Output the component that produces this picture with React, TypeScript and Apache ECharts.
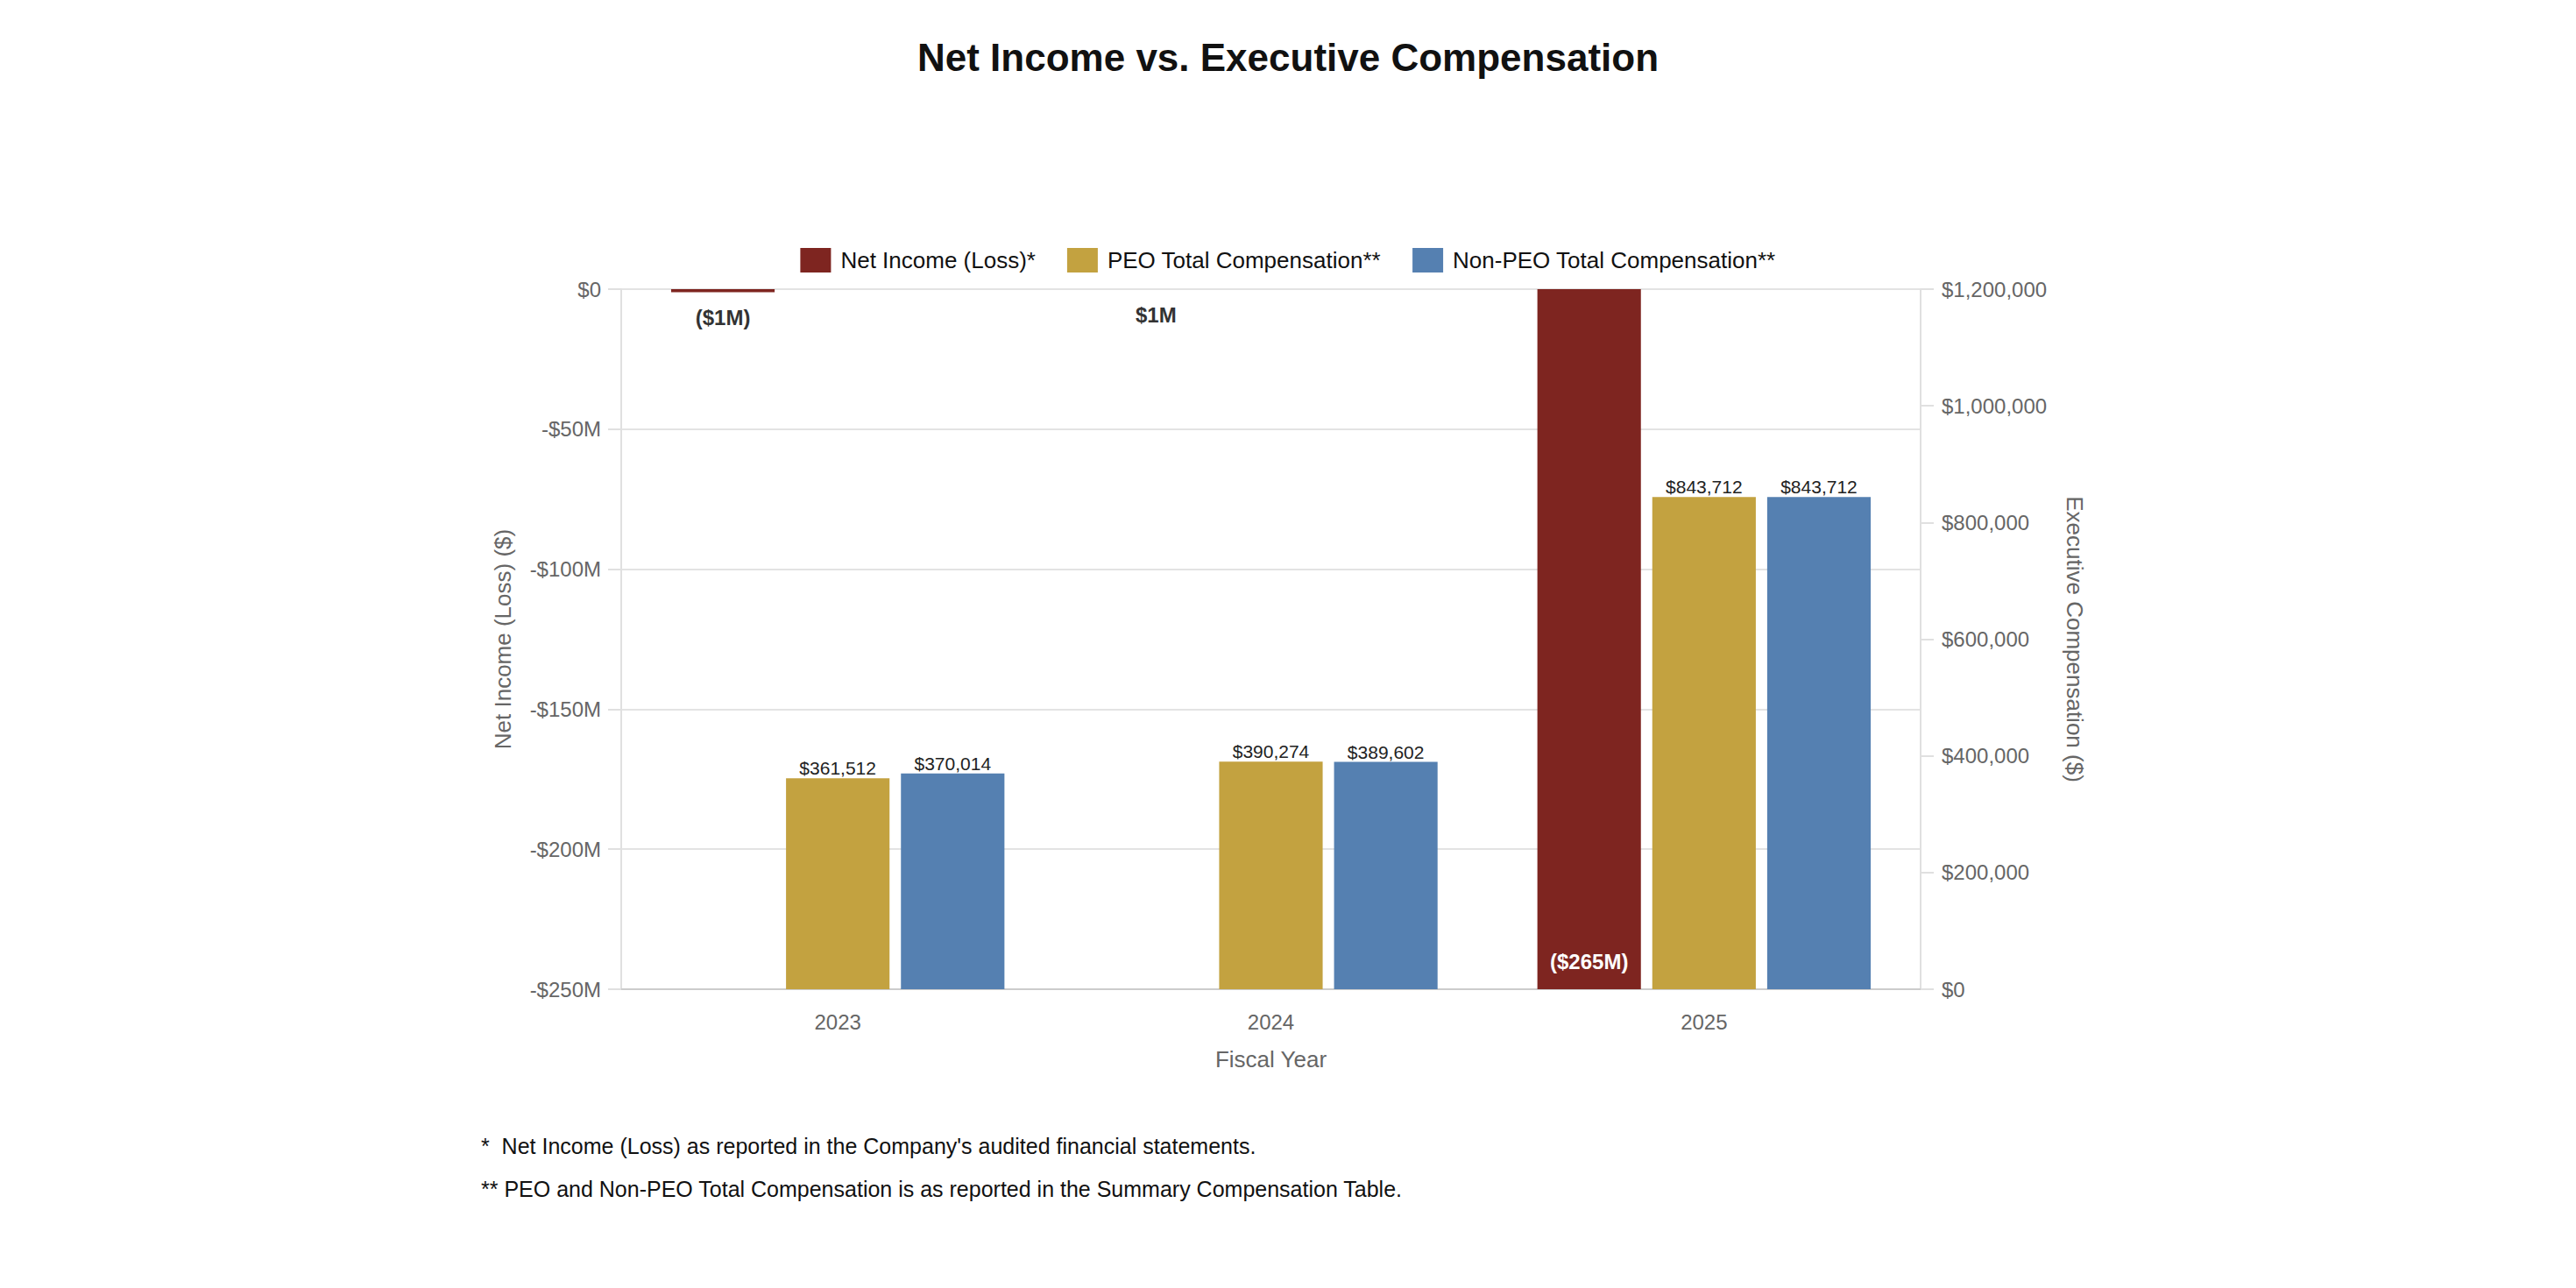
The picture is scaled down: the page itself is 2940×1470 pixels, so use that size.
import React, { useEffect, useRef } from 'react';
import * as echarts from 'echarts';

const fiscalYears = ['2023', '2024', '2025'];
const netIncome = [-1_100_000, 1_000_000, -265_000_000];
const peoComp = [361512, 390274, 843712];
const nonPeoComp = [370014, 389602, 843712];

const leftMin = -250_000_000;
const leftMax = 0;
const leftInterval = 50_000_000;
const rightMin = 0;
const rightMax = 1_200_000;
const rightInterval = 200_000;

const seriesNames = ['Net Income (Loss)*', 'PEO Total Compensation**', 'Non-PEO Total Compensation**'];
const colors = ['#7e2520', '#c3a240', '#5580b1'];
const footnotes = [
  "*  Net Income (Loss) as reported in the Company's audited financial statements.",
  '** PEO and Non-PEO Total Compensation is as reported in the Summary Compensation Table.',
];

const FONT = '"Liberation Sans", Arial, Helvetica, sans-serif';

const fmtMoney = (v: number) => '$' + Math.round(v).toLocaleString('en-US');
const fmtNet = (v: number) => {
  const m = Math.round(Math.abs(v) / 1e6);
  return v < 0 ? `($${m}M)` : `$${m}M`;
};

export default function App() {
  const ref = useRef<HTMLDivElement>(null);
  useEffect(() => {
    if (!ref.current) return;
    const chart = echarts.init(ref.current, undefined, { renderer: 'svg' });

    const netData = netIncome.map((v) => {
      const clipped = v < leftMin;
      return {
        value: v,
        label: clipped
          ? { show: true, position: 'insideBottom', distance: 20, color: '#ffffff', fontWeight: 'bold', fontSize: 24 }
          : { show: true, position: 'bottom', distance: 17, color: '#333333', fontWeight: 'bold', fontSize: 24 },
      };
    });

    const compLabel = {
      show: true,
      position: 'top',
      distance: 1,
      color: '#222222',
      fontSize: 21,
      formatter: (p: any) => fmtMoney(p.value),
    };

    const option: any = {
      animation: false,
      textStyle: { fontFamily: FONT },
      title: {
        text: 'Net Income vs. Executive Compensation',
        left: 'center',
        top: 30,
        textStyle: { fontSize: 44, fontWeight: 'bold', color: '#111111', fontFamily: FONT },
      },
      legend: {
        data: seriesNames,
        left: 'center',
        top: 270,
        icon: 'rect',
        itemWidth: 35,
        itemHeight: 28,
        itemGap: 36,
        textStyle: { fontSize: 26, color: '#111111', fontFamily: FONT, padding: [0, 0, 0, 6] },
      },
      grid: { left: 701, right: 740, top: 322, bottom: 333, containLabel: false },
      xAxis: {
        type: 'category',
        data: fiscalYears,
        name: 'Fiscal Year',
        nameLocation: 'middle',
        nameGap: 67,
        nameTextStyle: { fontSize: 26, color: '#666666', fontFamily: FONT },
        axisLine: { onZero: false, lineStyle: { color: '#cccccc', width: 2 } },
        axisTick: { show: false },
        axisLabel: { fontSize: 24, color: '#666666', margin: 25, fontFamily: FONT },
      },
      yAxis: [
        {
          type: 'value',
          position: 'left',
          min: leftMin,
          max: leftMax,
          interval: leftInterval,
          name: 'Net Income (Loss) ($)',
          nameLocation: 'middle',
          nameGap: 122,
          nameTextStyle: { fontSize: 26, color: '#666666', fontFamily: FONT },
          axisLine: { show: true, lineStyle: { color: '#e0e0e0', width: 2 } },
          axisTick: { show: true, length: 15, lineStyle: { color: '#e0e0e0', width: 2 } },
          splitLine: { show: true, lineStyle: { color: '#e3e3e3', width: 2 } },
          axisLabel: {
            fontSize: 24,
            color: '#666666',
            margin: 23,
            fontFamily: FONT,
            formatter: (v: number) => (v === 0 ? '$0' : `-$${Math.abs(v) / 1e6}M`),
          },
        },
        {
          type: 'value',
          position: 'right',
          min: rightMin,
          max: rightMax,
          interval: rightInterval,
          name: 'Executive Compensation ($)',
          nameLocation: 'middle',
          nameRotate: -90,
          nameGap: 163,
          nameTextStyle: { fontSize: 26, color: '#666666', fontFamily: FONT },
          axisLine: { show: true, lineStyle: { color: '#e0e0e0', width: 2 } },
          axisTick: { show: true, length: 15, lineStyle: { color: '#e0e0e0', width: 2 } },
          splitLine: { show: false },
          axisLabel: {
            fontSize: 24,
            color: '#666666',
            margin: 24,
            fontFamily: FONT,
            formatter: (v: number) => fmtMoney(v),
          },
        },
      ],
      series: [
        {
          name: seriesNames[0],
          type: 'bar',
          yAxisIndex: 0,
          data: netData,
          clip: true,
          barWidth: '23.9%',
          barGap: '11%',
          itemStyle: { color: colors[0] },
          label: { formatter: (p: any) => fmtNet(p.value), fontFamily: FONT },
        },
        {
          name: seriesNames[1],
          type: 'bar',
          yAxisIndex: 1,
          data: peoComp,
          barWidth: '23.9%',
          barGap: '11%',
          itemStyle: { color: colors[1] },
          label: compLabel,
        },
        {
          name: seriesNames[2],
          type: 'bar',
          yAxisIndex: 1,
          data: nonPeoComp,
          barWidth: '23.9%',
          barGap: '11%',
          itemStyle: { color: colors[2] },
          label: compLabel,
        },
      ],
      graphic: footnotes.map((t, i) => ({
        type: 'text',
        left: 541,
        top: 1287 + i * 49,
        style: { text: t, fontSize: 25, fill: '#111111', fontFamily: FONT },
      })),
    };

    chart.setOption(option);
    return () => chart.dispose();
  }, []);

  return <div ref={ref} style={{ width: '2924px', height: '1454px' }} />;
}
